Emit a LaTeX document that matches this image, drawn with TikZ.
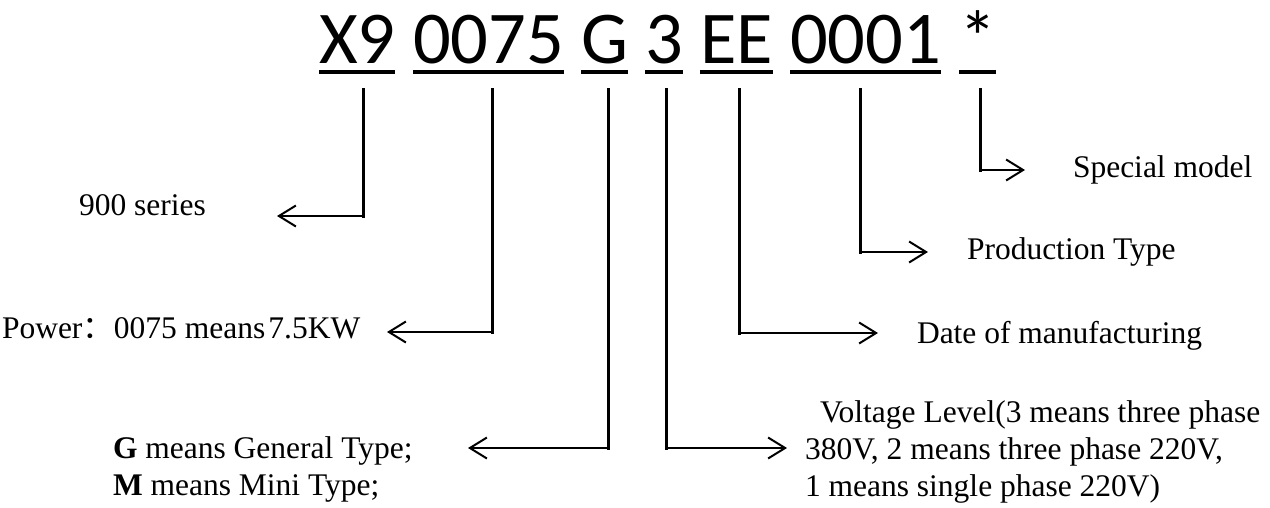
\documentclass[tikz,border=0pt]{standalone}
\usepackage{fontspec}
\setmainfont{Liberation Serif}
\newfontfamily\titlefont{Carlito}
\newfontfamily\cjk{Noto Sans CJK SC}
\usetikzlibrary{arrows.meta}
\begin{document}
\begin{tikzpicture}[x=1pt,y=-1pt,
  grp/.style={font=\titlefont\fontsize{74.5}{80}\selectfont, inner sep=0pt, outer sep=0pt, anchor=base west},
  lab/.style={font=\fontsize{31.5}{37}\selectfont, inner sep=0pt, outer sep=0pt, anchor=base west},
  mlab/.style={font=\fontsize{31.5}{37}\selectfont, inner sep=0pt, outer sep=0pt, anchor=north west, align=left},
  uline/.style={line width=4.5pt},
  vl/.style={line width=3pt, line cap=rect},
  hl/.style={line width=2pt, -{Straight Barb[length=17pt,width=21pt]}},
]
\useasboundingbox (0,0) rectangle (1270,507);
\fill[white] (0,0) rectangle (1270,507);

% title groups
\node[grp] (gX)  at (319,63) {X9};
\node[grp] (gP)  at (413,63) {0075};
\node[grp] (gG)  at (581,63) {G};
\node[grp] (gV)  at (645,63) {3};
\node[grp] (gE)  at (700,63) {EE};
\node[grp] (gN)  at (790,63) {0001};
\node[grp] (gS)  at (959,63) {*};
\coordinate (ul) at (0,72);
\foreach \n in {gX,gP,gG,gV,gE,gN,gS}
  \draw[uline] (\n.west |- ul) -- (\n.east |- ul);

% labels
\node[lab] (l1) at (79,215) {900 series};
\node[lab] (l2) at (2,338) {Power{\cjk ：}0075 means\hspace{0.1em}7.5KW};
\node[mlab] (l3) at (113,437) {\textbf{G} means General Type;\\\textbf{M} means Mini Type;};
\node[mlab] (l4) at (805,401) {\hspace*{15pt}Voltage Level(3 means three phase\\380V, 2 means three phase 220V,\\1 means single phase 220V)};
\node[lab] (l5) at (917,343) {Date of manufacturing};
\node[lab] (l6) at (967,259) {Production Type};
\node[lab] (l7) at (1073,177) {Special model};

% connector points
\coordinate (t1) at (363,89.5); \coordinate (k1) at (363,216); \coordinate (a1) at (277,216);
\coordinate (t2) at (492,89.5); \coordinate (k2) at (492,332); \coordinate (a2) at (387,332);
\coordinate (t3) at (608,89.5); \coordinate (k3) at (608,448); \coordinate (a3) at (468,448);
\coordinate (t4) at (666,89.5); \coordinate (k4) at (666,448); \coordinate (a4) at (787,448);
\coordinate (t5) at (739,89.5); \coordinate (k5) at (739,333); \coordinate (a5) at (878,333);
\coordinate (t6) at (860,89.5); \coordinate (k6) at (860,252); \coordinate (a6) at (928,252);
\coordinate (t7) at (980,89.5); \coordinate (k7) at (980,170); \coordinate (a7) at (1025,170);

\foreach \i in {1,...,7}{
  \draw[vl] (t\i) -- (k\i);
  \draw[hl] (k\i) -- (a\i);
}
\end{tikzpicture}
\end{document}
